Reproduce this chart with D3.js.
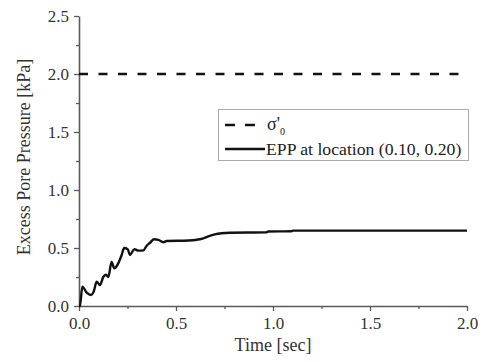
<!DOCTYPE html>
<html lang="en">
<head>
  <title>excess pore pressure</title>
  <script type="text/javascript" src="https://cdnjs.cloudflare.com/ajax/libs/d3/7.8.5/d3.min.js"></script>
  <style>
    body {
      margin: 0px;
      background: #ffffff;
    }
  </style>
</head>
<body>
  <script type="text/javascript">
    var width = 483;
    var height = 362;
    var serif = "'Liberation Serif', 'Times New Roman', Times, 'DejaVu Serif', serif";

    // EPP at location (0.10, 0.20)
    var timeValues = [0, 0.005, 0.017, 0.04, 0.062, 0.075, 0.091, 0.108, 0.125, 0.139, 0.151,
      0.168, 0.182, 0.203, 0.22, 0.233, 0.251, 0.263, 0.285, 0.306, 0.332, 0.349, 0.366,
      0.387, 0.409, 0.435, 0.452, 0.564, 0.624, 0.675, 0.70, 0.735, 0.778, 0.965, 0.975,
      1.095, 1.105, 2.0];
    var eppValues = [0, 0, 0.167, 0.115, 0.095, 0.12, 0.21, 0.18, 0.25, 0.27, 0.25,
      0.38, 0.325, 0.37, 0.44, 0.50, 0.49, 0.44, 0.49, 0.477, 0.48, 0.52, 0.545,
      0.575, 0.57, 0.55, 0.56, 0.565, 0.575, 0.605, 0.617, 0.627, 0.632, 0.635, 0.642,
      0.645, 0.65, 0.65];
    var sigmaValue = 2.0;

    var xTicks = [0, 0.5, 1.0, 1.5, 2.0];
    var yTicks = [0, 0.5, 1.0, 1.5, 2.0, 2.5];
    var xMinor = [0.25, 0.75, 1.25, 1.75];
    var yMinor = [0.25, 0.75, 1.25, 1.75, 2.25];

    var svg = d3.select("body").append("svg")
      .attr("width", width)
      .attr("height", height)
      .attr("font-family", serif);

    var x = d3.scaleLinear().domain([0, 2]).range([79, 467]);
    var y = d3.scaleLinear().domain([0, 2.5]).range([306, 16]);

    var axisColor = "#5a5a5a";

    // minor ticks first, major axis on top
    svg.append("g")
      .attr("transform", "translate(0,306)")
      .call(d3.axisBottom(x).tickValues(xMinor).tickSize(3).tickFormat(""))
      .call(function (g) { g.select(".domain").remove(); });
    svg.append("g")
      .attr("transform", "translate(79,0)")
      .call(d3.axisLeft(y).tickValues(yMinor).tickSize(3).tickFormat(""))
      .call(function (g) { g.select(".domain").remove(); });

    svg.append("g")
      .attr("transform", "translate(0,306)")
      .call(d3.axisBottom(x).tickValues(xTicks).tickSize(5).tickSizeOuter(0).tickPadding(6)
        .tickFormat(d3.format(".1f")));
    svg.append("g")
      .attr("transform", "translate(79,0)")
      .call(d3.axisLeft(y).tickValues(yTicks).tickSize(5).tickSizeOuter(0).tickPadding(5)
        .tickFormat(d3.format(".1f")));

    svg.selectAll("g").attr("font-family", serif).attr("font-size", 17);
    svg.selectAll(".tick line").attr("stroke", axisColor).attr("stroke-width", 1.3);
    svg.selectAll(".domain").attr("stroke", axisColor).attr("stroke-width", 1.6);
    svg.selectAll(".tick text").attr("fill", "#333");

    // axis titles
    svg.append("text")
      .attr("x", 273).attr("y", 351)
      .attr("text-anchor", "middle")
      .attr("fill", "#333")
      .attr("font-size", 18)
      .text("Time [sec]");

    svg.append("text")
      .attr("transform", "translate(30,157) rotate(-90)")
      .attr("text-anchor", "middle")
      .attr("fill", "#333")
      .attr("font-size", 18)
      .text("Excess Pore Pressure [kPa]");

    // sigma'0 line
    svg.append("line")
      .attr("x1", x(0)).attr("x2", x(2))
      .attr("y1", y(sigmaValue)).attr("y2", y(sigmaValue))
      .attr("stroke", "#111")
      .attr("stroke-width", 2.4)
      .attr("stroke-dasharray", "9,10.5");

    // EPP curve
    var points = timeValues.map(function (t, i) { return [t, eppValues[i]]; });
    var line = d3.line()
      .x(function (d) { return x(d[0]); })
      .y(function (d) { return y(d[1]); })
      .curve(d3.curveMonotoneX);

    svg.append("path")
      .datum(points)
      .attr("d", line)
      .attr("fill", "none")
      .attr("stroke", "#111")
      .attr("stroke-width", 2.4)
      .attr("stroke-linejoin", "round");

    // legend
    var legend = svg.append("g");
    legend.append("rect")
      .attr("x", 218.5).attr("y", 109.5)
      .attr("width", 250).attr("height", 51)
      .attr("fill", "#fff")
      .attr("stroke", "#aaa")
      .attr("stroke-width", 1);

    legend.append("line")
      .attr("x1", 225).attr("x2", 256)
      .attr("y1", 125).attr("y2", 125)
      .attr("stroke", "#111")
      .attr("stroke-width", 2.4)
      .attr("stroke-dasharray", "10,10");

    var sig = legend.append("text")
      .attr("x", 267).attr("y", 130)
      .attr("fill", "#222")
      .attr("font-size", 18);
    sig.append("tspan").text("σ'");
    sig.append("tspan").attr("dy", 5).attr("font-size", 10).text("0");

    legend.append("line")
      .attr("x1", 225).attr("x2", 265)
      .attr("y1", 149).attr("y2", 149)
      .attr("stroke", "#111")
      .attr("stroke-width", 2.4);

    legend.append("text")
      .attr("x", 266).attr("y", 155)
      .attr("fill", "#222")
      .attr("font-size", 17.7)
      .text("EPP at location (0.10, 0.20)");
  </script>
</body>
</html>
